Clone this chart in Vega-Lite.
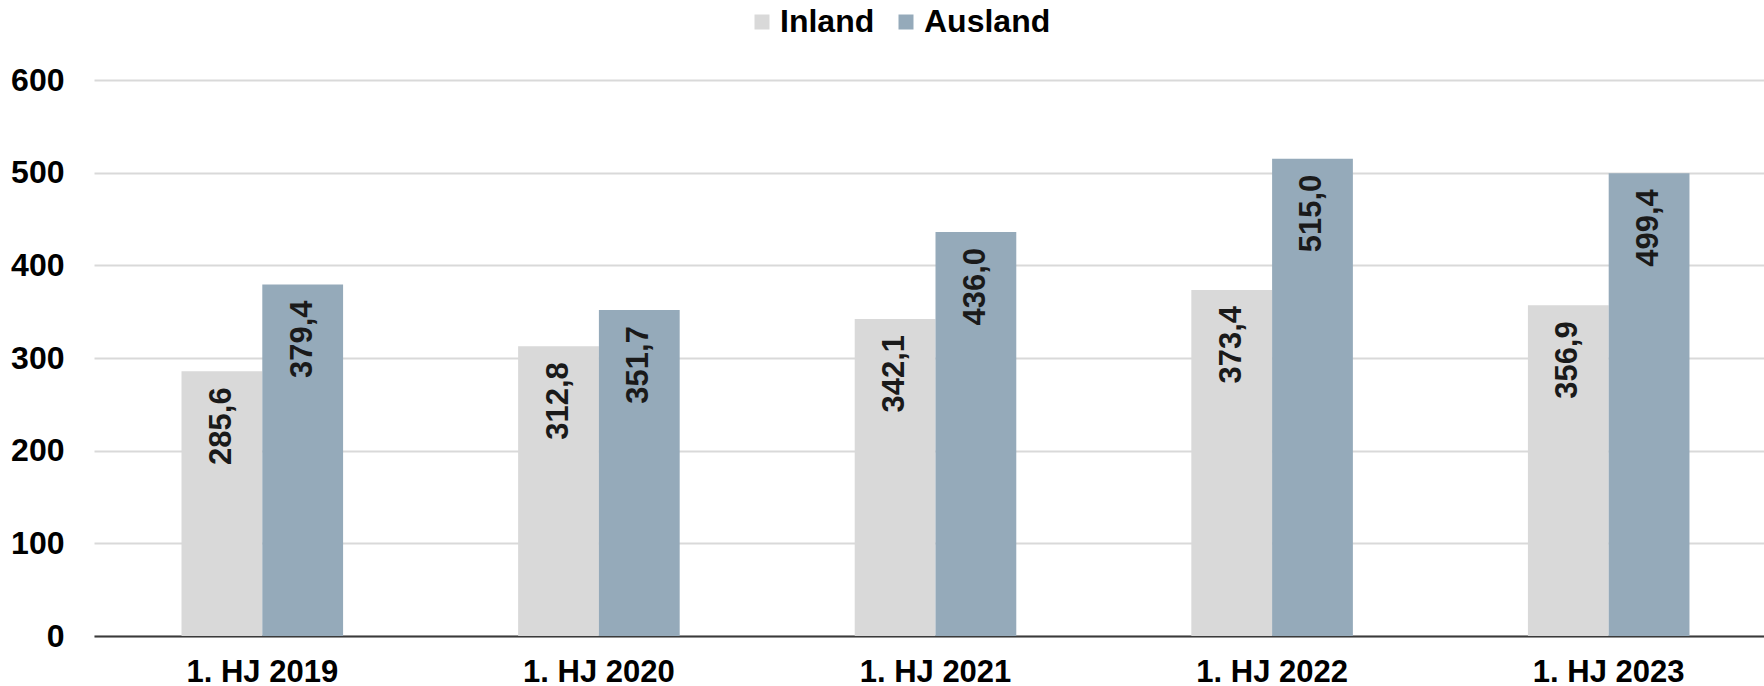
{
  "$schema": "https://vega.github.io/schema/vega-lite/v6.json",
  "width": 1683,
  "height": 556,
  "autosize": {"type": "none"},
  "padding": {"left": 94, "top": 80, "right": 0, "bottom": 50},
  "background": "white",
  "config": {
    "view": {"stroke": null},
    "font": "Liberation Sans",
    "locale": {"number": {"decimal": ",", "thousands": ".", "grouping": [3], "currency": ["", " €"]}}
  },
  "data": {
    "values": [
      {"period": "1. HJ 2019", "series": "Inland", "value": 285.6},
      {"period": "1. HJ 2019", "series": "Ausland", "value": 379.4},
      {"period": "1. HJ 2020", "series": "Inland", "value": 312.8},
      {"period": "1. HJ 2020", "series": "Ausland", "value": 351.7},
      {"period": "1. HJ 2021", "series": "Inland", "value": 342.1},
      {"period": "1. HJ 2021", "series": "Ausland", "value": 436.0},
      {"period": "1. HJ 2022", "series": "Inland", "value": 373.4},
      {"period": "1. HJ 2022", "series": "Ausland", "value": 515.0},
      {"period": "1. HJ 2023", "series": "Inland", "value": 356.9},
      {"period": "1. HJ 2023", "series": "Ausland", "value": 499.4}
    ]
  },
  "encoding": {
    "x": {
      "field": "period", "type": "nominal", "sort": null,
      "scale": {"paddingInner": 0.52, "paddingOuter": 0.26},
      "axis": {
        "title": null, "labelAngle": 0, "ticks": false,
        "domainColor": "#3a3a3a", "domainWidth": 2,
        "labelFont": "Liberation Sans", "labelFontWeight": "bold", "labelFontSize": 31,
        "labelColor": "#000000", "labelPadding": 21
      }
    },
    "xOffset": {"field": "series", "type": "nominal", "sort": ["Inland", "Ausland"]},
    "y": {
      "field": "value", "type": "quantitative",
      "scale": {"domain": [0, 600], "nice": false},
      "axis": {
        "title": null, "values": [0, 100, 200, 300, 400, 500, 600],
        "ticks": false, "domain": false,
        "gridColor": "#d9d9d9", "gridWidth": 2,
        "labelFont": "Liberation Sans", "labelFontWeight": "bold", "labelFontSize": 32,
        "labelColor": "#000000", "labelPadding": 30
      }
    }
  },
  "layer": [
    {
      "mark": {"type": "bar"},
      "encoding": {
        "color": {
          "field": "series", "type": "nominal",
          "scale": {"domain": ["Inland", "Ausland"], "range": ["#d9d9d9", "#95aaba"]},
          "legend": {
            "title": null, "orient": "none", "direction": "horizontal",
            "legendX": 652, "legendY": -74,
            "symbolType": "square", "symbolSize": 225, "symbolStrokeWidth": 0,
            "labelFont": "Liberation Sans", "labelFontWeight": "bold", "labelFontSize": 32,
            "labelColor": "#000000", "labelOffset": 2, "columnPadding": 15
          }
        }
      }
    },
    {
      "mark": {
        "type": "text", "angle": 270, "align": "right", "baseline": "middle",
        "dx": -16, "font": "Liberation Sans", "fontWeight": "bold", "fontSize": 31,
        "color": "#1a1a1a"
      },
      "encoding": {
        "text": {"field": "value", "type": "quantitative", "format": ".1f"}
      }
    }
  ]
}
